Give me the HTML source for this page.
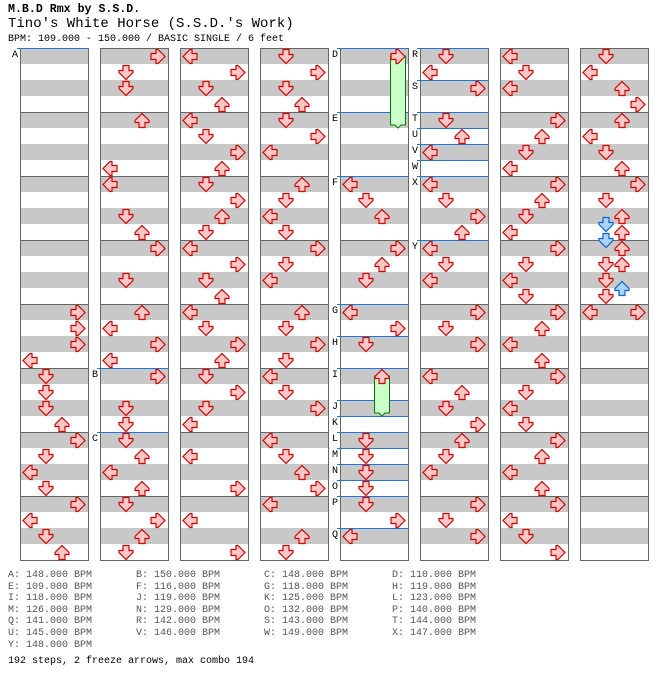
<!DOCTYPE html>
<html><head><meta charset="utf-8"><style>
body{margin:0;background:#fff;width:672px;height:692px;overflow:hidden;font-family:"Liberation Mono",monospace}
.t{position:absolute;white-space:pre;left:8px}
.b{position:absolute;white-space:pre;font-size:10px;line-height:11.6px;color:#555;top:570px}
</style></head><body>
<div class="t" style="top:3px;font-size:11.6px;font-weight:bold;">M.B.D Rmx by S.S.D.</div>
<div class="t" style="top:16px;font-size:14px;">Tino's White Horse (S.S.D.'s Work)</div>
<div class="t" style="top:34px;font-size:10px;">BPM: 109.000 - 150.000 / BASIC SINGLE / 6 feet</div>
<svg id="chart" width="672" height="692" style="position:absolute;left:0;top:0" xmlns="http://www.w3.org/2000/svg"></svg>
<div class="b" style="left:8px">A: 148.000 BPM
E: 109.000 BPM
I: 118.000 BPM
M: 126.000 BPM
Q: 141.000 BPM
U: 145.000 BPM
Y: 148.000 BPM</div>
<div class="b" style="left:136px">B: 150.000 BPM
F: 116.000 BPM
J: 119.000 BPM
N: 129.000 BPM
R: 142.000 BPM
V: 146.000 BPM</div>
<div class="b" style="left:264px">C: 148.000 BPM
G: 118.000 BPM
K: 125.000 BPM
O: 132.000 BPM
S: 143.000 BPM
W: 149.000 BPM</div>
<div class="b" style="left:392px">D: 110.000 BPM
H: 119.000 BPM
L: 123.000 BPM
P: 140.000 BPM
T: 144.000 BPM
X: 147.000 BPM</div>
<div class="t" style="top:656px;font-size:10px;">192 steps, 2 freeze arrows, max combo 194</div>
<script>
const col0 = [[16,'R'],[17,'R'],[18,'R'],[19,'L'],[20,'D'],[21,'D'],[22,'D'],[23,'U'],[24,'R'],[25,'D'],[26,'L'],[27,'D'],[28,'R'],[29,'L'],[30,'D'],[31,'U']];
const col1 = [[0,'R'],[1,'D'],[2,'D'],[4,'U'],[7,'L'],[8,'L'],[10,'D'],[11,'U'],[12,'R'],[14,'D'],[16,'U'],[17,'L'],[18,'R'],[19,'L'],[20,'R'],[22,'D'],[23,'D'],[24,'D'],[25,'U'],[26,'L'],[27,'U'],[28,'D'],[29,'R'],[30,'U'],[31,'D']];
const col2 = [[0,'L'],[1,'R'],[2,'D'],[3,'U'],[4,'L'],[5,'D'],[6,'R'],[7,'U'],[8,'D'],[9,'R'],[10,'U'],[11,'D'],[12,'L'],[13,'R'],[14,'D'],[15,'U'],[16,'L'],[17,'D'],[18,'R'],[19,'U'],[20,'D'],[21,'R'],[22,'D'],[23,'L'],[25,'L'],[27,'R'],[29,'L'],[31,'R']];
const col3 = [[0,'D'],[1,'R'],[2,'D'],[3,'U'],[4,'D'],[5,'R'],[6,'L'],[8,'U'],[9,'D'],[10,'L'],[11,'D'],[12,'R'],[13,'D'],[14,'L'],[16,'U'],[17,'D'],[18,'R'],[19,'D'],[20,'L'],[21,'D'],[22,'R'],[24,'L'],[25,'D'],[26,'U'],[27,'R'],[28,'L'],[30,'U'],[31,'D']];
const col4 = [[0,'R'],[8,'L'],[9,'D'],[10,'U'],[12,'R'],[13,'U'],[14,'D'],[16,'L'],[17,'R'],[18,'D'],[20,'U'],[24,'D'],[25,'D'],[26,'D'],[27,'D'],[28,'D'],[29,'R'],[30,'L']];
const col5 = [[0,'D'],[1,'L'],[2,'R'],[4,'D'],[5,'U'],[6,'L'],[8,'L'],[9,'D'],[10,'R'],[11,'U'],[12,'L'],[13,'D'],[14,'L'],[16,'R'],[17,'D'],[18,'R'],[20,'L'],[21,'U'],[22,'D'],[23,'R'],[24,'U'],[25,'D'],[26,'L'],[28,'R'],[29,'D'],[30,'R']];
const col6 = [[0,'L'],[1,'D'],[2,'L'],[4,'R'],[5,'U'],[6,'D'],[7,'L'],[8,'R'],[9,'U'],[10,'D'],[11,'L'],[12,'R'],[13,'D'],[14,'L'],[15,'D'],[16,'R'],[17,'U'],[18,'L'],[19,'U'],[20,'R'],[21,'D'],[22,'L'],[23,'D'],[24,'R'],[25,'U'],[26,'L'],[27,'U'],[28,'R'],[29,'L'],[30,'D'],[31,'R']];
const col7 = [[0,'D'],[1,'L'],[2,'U'],[3,'R'],[4,'U'],[5,'L'],[6,'D'],[7,'U'],[8,'R'],[9,'D'],[10,'U'],[10.5,'D'],[11,'U'],[11.5,'D'],[12,'U'],[13,'D'],[13,'U'],[14,'D'],[14.5,'U'],[15,'D'],[16,'L'],[16,'R']];
const columns = [col0,col1,col2,col3,col4,col5,col6,col7];
// freezes: [column, startRow, endRow, lane]
const freezes = [[4,0,4,'R'],[4,20,22,'U']];
// section markers: [column, row, label]
const markers = [[0,0,'A'],[1,20,'B'],[1,24,'C'],[4,0,'D'],[4,4,'E'],[4,8,'F'],[4,16,'G'],[4,18,'H'],[4,20,'I'],[4,22,'J'],[4,23,'K'],[4,24,'L'],[4,25,'M'],[4,26,'N'],[4,27,'O'],[4,28,'P'],[4,30,'Q'],[5,0,'R'],[5,2,'S'],[5,4,'T'],[5,5,'U'],[5,6,'V'],[5,7,'W'],[5,8,'X'],[5,12,'Y']];

const NS='http://www.w3.org/2000/svg';
const svg=document.getElementById('chart');
const TOP=48, ROW=16, CW=68;
const colX=c=>20+80*c;
const rowY=r=>TOP+r*ROW;
const laneX=(c,l)=>colX(c)+10+16*'LDUR'.indexOf(l);
const rot={D:0,L:90,U:180,R:-90};
function mk(tag,attrs,parent){const e=document.createElementNS(NS,tag);for(const k in attrs)e.setAttribute(k,attrs[k]);(parent||svg).appendChild(e);return e;}

for(let c=0;c<8;c++){
  const g=mk('g',{});
  
  
  for(let r=0;r<32;r+=2){mk('rect',{x:colX(c),y:rowY(r),width:CW,height:ROW,fill:'#c8c8c8'},g);}
  for(let m=1;m<8;m++){mk('line',{x1:colX(c),x2:colX(c)+CW,y1:rowY(m*4)+0.5,y2:rowY(m*4)+0.5,stroke:'#666','stroke-width':1},g);}
  mk('rect',{x:colX(c)+0.5,y:TOP+0.5,width:CW,height:512,fill:'none',stroke:'#666','stroke-width':1},g);
}
markers.forEach(([c,r,l])=>{
  const ln=mk('line',{x1:colX(c)-3,x2:colX(c)+CW,y1:rowY(r)+0.5,y2:rowY(r)+0.5,stroke:'#1e78dc','stroke-width':1});
  
  
  const t=mk('text',{x:colX(c)-8,y:rowY(r)+9,'font-size':'10','font-family':'Liberation Mono, monospace',fill:'#000'});
  t.textContent=l;
  
  
});
freezes.forEach(([c,s,e,l])=>{
  const x=laneX(c,l);
  const fr=mk('path',{d:`M${x-7.5},${rowY(s)+8} V${rowY(e)+13} H${x-3} L${x},${rowY(e)+16} L${x+3},${rowY(e)+13} H${x+7.5} V${rowY(s)+8} Z`,fill:'#ccffcc',stroke:'#008000','stroke-width':1});
  
  
});
const arrowPath='M-3,-7 H3 V-2 H7 V0 L0,7 L-7,0 V-2 H-3 Z';
columns.forEach((notes,c)=>{
  notes.forEach(([r,l])=>{
    const blue=(r%1)!==0;
    const x=laneX(c,l), y=rowY(r)+8.5;
    const a=mk('path',{d:arrowPath,transform:`translate(${x},${y}) rotate(${rot[l]})`,fill:blue?'#a8d4ff':'#ffc8c8',stroke:blue?'#1060d0':'#d80000','stroke-width':1.2,'stroke-linejoin':'miter'});
    
    
  });
});
</script>
</body></html>
